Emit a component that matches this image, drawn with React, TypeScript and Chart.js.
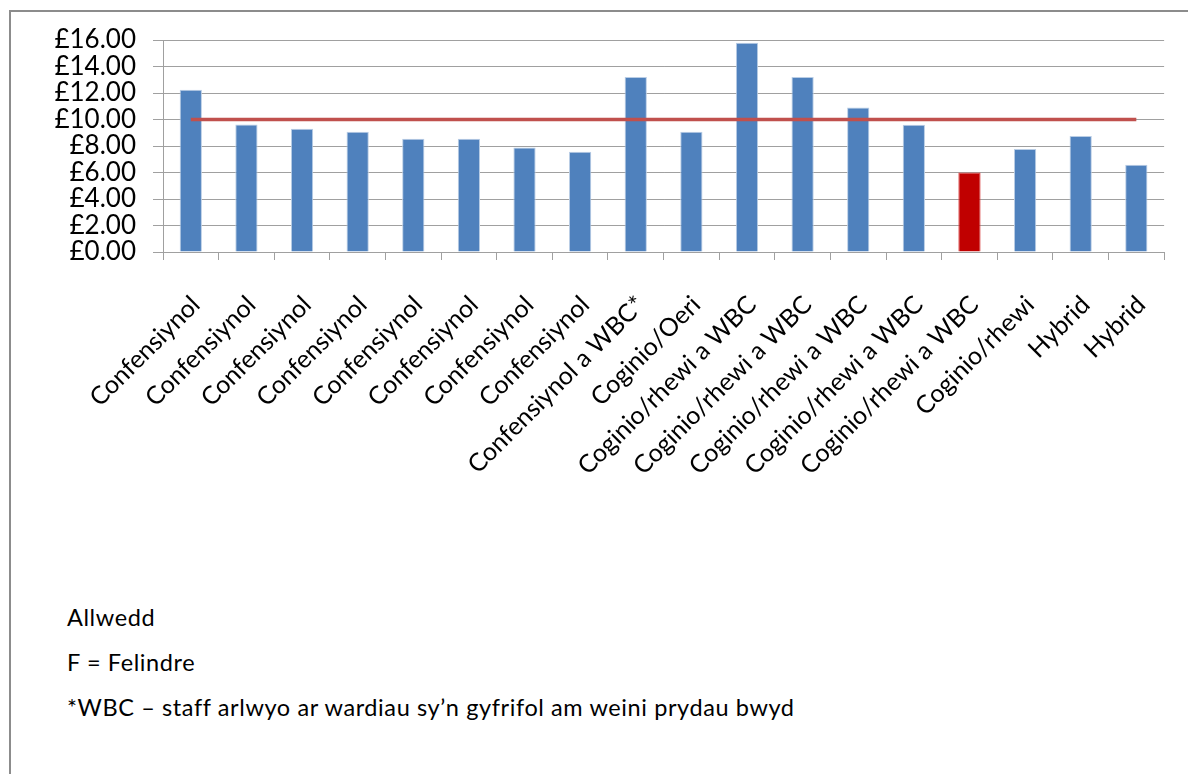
import React, { useEffect, useRef } from "react";
import { Chart, registerables } from "chart.js";

Chart.register(...registerables);

const categories: string[] = [
  "Confensiynol",
  "Confensiynol",
  "Confensiynol",
  "Confensiynol",
  "Confensiynol",
  "Confensiynol",
  "Confensiynol",
  "Confensiynol",
  "Confensiynol a WBC*",
  "Coginio/Oeri",
  "Coginio/rhewi a WBC",
  "Coginio/rhewi a WBC",
  "Coginio/rhewi a WBC",
  "Coginio/rhewi a WBC",
  "Coginio/rhewi a WBC",
  "Coginio/rhewi",
  "Hybrid",
  "Hybrid",
];

const costValues: number[] = [
  12.25, 9.63, 9.3, 9.07, 8.54, 8.54, 7.89, 7.56, 13.2, 9.07, 15.8, 13.2, 10.9,
  9.6, 6.0, 7.77, 8.75, 6.58,
];

const averageValues: number[] = [
  10, 10, 10, 10, 10, 10, 10, 10, 10, 10, 10, 10, 10, 10, 10, 10, 10, 10,
];

const highlightedIndex = 14;

const yTicks: number[] = [0, 2, 4, 6, 8, 10, 12, 14, 16];

const keyLines: string[] = [
  "Allwedd",
  "F = Felindre",
  "*WBC \u2013 staff arlwyo ar wardiau sy\u2019n gyfrifol am weini prydau bwyd",
];

const FONT = "Lato, 'Open Sans', sans-serif";

export default function App() {
  const canvasRef = useRef<HTMLCanvasElement | null>(null);

  useEffect(() => {
    const canvas = canvasRef.current;
    if (!canvas) return;
    const barColors = costValues.map((_, i) =>
      i === highlightedIndex ? "#C00000" : "#4F81BD"
    );
    const barBorders = costValues.map((_, i) =>
      i === highlightedIndex ? "#D94040" : "#B9CDE5"
    );
    const chart = new Chart(canvas, {
      type: "bar",
      data: {
        labels: categories,
        datasets: [
          {
            type: "line",
            data: averageValues,
            borderColor: "#C0504D",
            borderWidth: 3.5,
            pointRadius: 0,
            fill: false,
            order: 0,
          } as any,
          {
            type: "bar",
            data: costValues,
            backgroundColor: barColors,
            borderColor: barBorders,
            borderWidth: 1,
            barPercentage: 1,
            categoryPercentage: 0.4,
            order: 1,
          },
        ],
      },
      options: {
        responsive: false,
        animation: false,
        layout: { padding: { top: 40, right: 17, left: 0, bottom: 0 } },
        plugins: {
          legend: { display: false },
          tooltip: { enabled: false },
          title: { display: false },
        },
        scales: {
          x: {
            offset: true,
            grid: {
              display: true,
              drawOnChartArea: false,
              drawTicks: true,
              tickLength: 8,
              color: "#A0A0A0",
              offset: true,
            },
            border: { display: true, color: "#A0A0A0", width: 1 },
            ticks: {
              autoSkip: false,
              minRotation: 45,
              maxRotation: 45,
              padding: 30,
              labelOffset: 5,
              color: "#000000",
              font: { family: FONT, size: 25 },
            },
            afterFit: (s: any) => {
              s.height = 268;
            },
          },
          y: {
            min: 0,
            max: 16,
            afterBuildTicks: (s: any) => {
              s.ticks = yTicks.map((v) => ({ value: v }));
            },
            grid: {
              color: "#A0A0A0",
              lineWidth: 1,
              tickLength: 10,
              drawTicks: true,
            },
            border: { display: true, color: "#A0A0A0", width: 1 },
            ticks: {
              autoSkip: false,
              padding: 17,
              color: "#000000",
              font: { family: FONT, size: 26 },
              callback: (v: any) => "\u00A3" + Number(v).toFixed(2),
            },
            afterFit: (s: any) => {
              s.width = 163;
            },
          },
        },
      },
    });
    return () => chart.destroy();
  }, []);

  return (
    <div
      style={{
        position: "fixed",
        left: 0,
        top: 0,
        width: 1188,
        height: 774,
        overflow: "hidden",
        background: "#ffffff",
      }}
    >
      <div
        style={{
          position: "absolute",
          left: 9,
          top: 10,
          width: 1400,
          height: 1000,
          border: "2px solid #8C8C8C",
          boxSizing: "border-box",
        }}
      />
      <canvas
        ref={canvasRef}
        width={1188}
        height={520}
        style={{ position: "absolute", left: 0, top: 0, width: 1188, height: 520 }}
      />
      {keyLines.map((t, i) => (
        <div
          key={i}
          style={{
            position: "absolute",
            left: 67,
            top: 602 + i * 45,
            fontFamily: FONT,
            fontSize: 23.5,
            letterSpacing: "0.6px",
            lineHeight: "30px",
            color: "#000000",
            whiteSpace: "nowrap",
          }}
        >
          {t}
        </div>
      ))}
    </div>
  );
}
